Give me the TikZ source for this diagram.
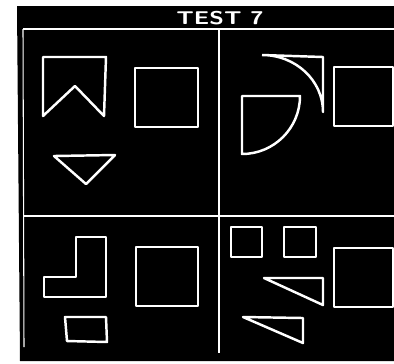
\documentclass[tikz,border=0pt]{standalone}
\usepackage{tikz}
\tikzset{
  fig/.style={draw=white,line width=1.4pt,line join=round},
  rule/.style={draw=white,line width=0.6pt},
}
\begin{document}
\begin{tikzpicture}[x=0.02cm,y=-0.02cm]
\useasboundingbox (0,0) rectangle (394,363);
\clip (0,0) rectangle (394,363);
\fill[black] (17,6) -- (396,6) -- (396,361) -- (20,361) -- cycle;
\node[text=white,font=\sffamily\bfseries\fontsize{10.5}{12}\selectfont,xscale=1.3,inner sep=0] (title) at (220,18) {TEST 7};
\draw[rule] (23,29) -- (396,29);
\draw[rule] (23,29) -- (24,347);
\draw[rule] (219,29) -- (219,353);
\draw[rule] (23,216) -- (396,216);
\draw[fig] (43,57) -- (106,57) -- (104,116) -- (75,86) -- (43,116) -- cycle;
\draw[fig] (135,68) rectangle (198,127);
\draw[fig] (54,156) -- (115,155) -- (86,184) -- cycle;
\draw[fig] (242,96) -- (300,96) arc[start angle=0,end angle=90,x radius=58,y radius=58] -- cycle;
\draw[fig] (262,55) -- (323,57) -- (323,112) arc[start angle=0,end angle=-90,x radius=61,y radius=57];
\draw[fig] (334,67) rectangle (393,126);
\draw[fig] (76,237) -- (106,237) -- (106,297) -- (44,297) -- (44,277) -- (76,277) -- cycle;
\draw[fig] (136,247) rectangle (198,306);
\draw[fig] (65,317) -- (106,317) -- (107,342) -- (67,341) -- cycle;
\draw[fig] (231,227) rectangle (262,257);
\draw[fig] (284,227) rectangle (316,257);
\draw[fig] (334,248) rectangle (393,307);
\draw[fig] (264,278) -- (323,278) -- (323,305) -- cycle;
\draw[fig] (243,317) -- (303,318) -- (303,343) -- cycle;
\end{tikzpicture}
\end{document}
